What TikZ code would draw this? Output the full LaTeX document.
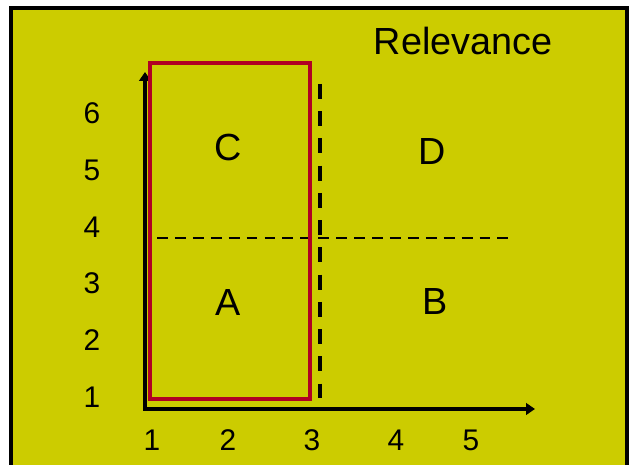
\documentclass[tikz,border=0pt]{standalone}
\usepackage{fontspec}
\setmainfont{Liberation Sans}
\usetikzlibrary{arrows.meta}
\definecolor{olive}{RGB}{204,204,0}
\definecolor{boxred}{RGB}{176,0,36}
\tikzset{
  axis/.style = {line width=2.2pt, {Triangle[length=5pt,width=6.5pt]}-{Triangle[length=5pt,width=6.5pt]}},
  tick/.style = {font=\fontsize{17}{20}\selectfont},
  quad/.style = {font=\fontsize{21.5}{24}\selectfont},
}
\begin{document}
\begin{tikzpicture}[x=0.02cm, y=-0.02cm]
			\useasboundingbox (0,0) rectangle (630,465);
			\fill[white] (0,0) rectangle (630,465);
			\fill[olive] (11,8) rectangle (627,470);
			\draw[line width=1.8pt] (11,470) -- (11,8) -- (627,8) -- (627,470);
			% axes
			\coordinate (top) at (145,72);
			\coordinate (origin) at (145,409);
			\coordinate (right) at (535,409);
			\draw[axis] (top) -- (origin) -- (right);
			% grid lines
			\draw[line width=2.2pt, dash pattern=on 8.5pt off 7pt] (320,84) -- (320,398);
			\draw[line width=1.4pt, dash pattern=on 6.2pt off 4pt] (157,238) -- (512,238);
			\draw[boxred, line width=2.4pt] (150,63) rectangle (310,399);
			% labels
			\foreach \n/\y in {1/397, 2/340, 3/283, 4/227, 5/170, 6/113}
				\node[tick] (y\n) at (92,\y) {\n};
			\foreach \n/\x in {1/152, 2/228, 3/312, 4/396, 5/471}
				\node[tick] (x\n) at (\x,440) {\n};
			\node[quad] (title) at (463,41) {Relevance};
			\node[quad] (C) at (228,148) {C};
			\node[quad] (D) at (432,152) {D};
			\node[quad] (A) at (228,303) {A};
			\node[quad] (B) at (435,302) {B};
\end{tikzpicture}
\end{document}
